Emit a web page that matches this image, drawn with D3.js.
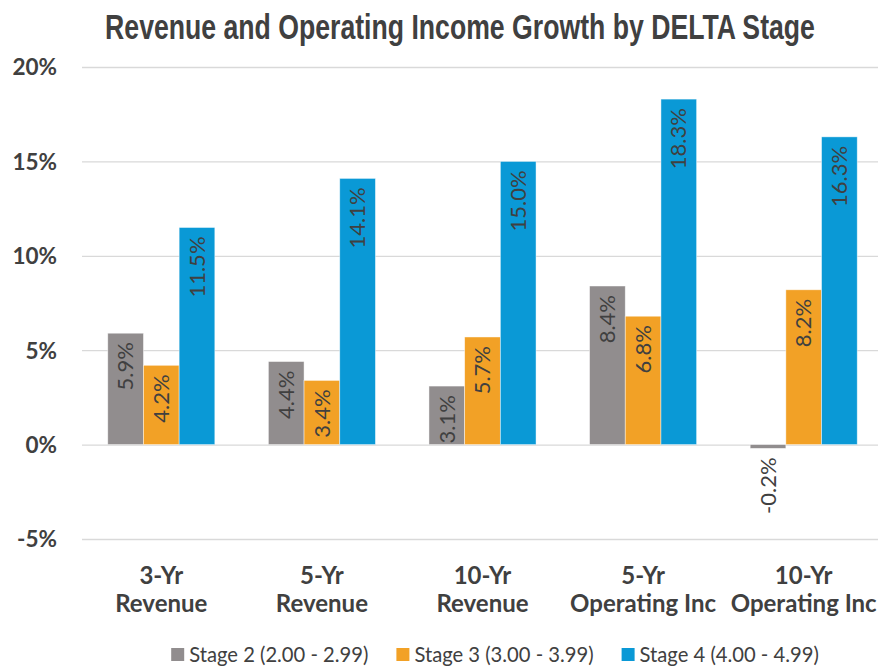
<!DOCTYPE html>
<html>
<head>
<meta charset="utf-8">
<script src="https://cdn.jsdelivr.net/npm/d3@7"></script>
<style>
  html, body { margin: 0; padding: 0; background: #fff; }
  svg { display: block; }
</style>
</head>
<body>
<svg id="chart" width="878" height="668"></svg>
<script>
const title = "Revenue and Operating Income Growth by DELTA Stage";
const categories = ["3-Yr\nRevenue", "5-Yr\nRevenue", "10-Yr\nRevenue", "5-Yr\nOperating Inc", "10-Yr\nOperating Inc"];
const seriesNames = ["Stage 2 (2.00 - 2.99)", "Stage 3 (3.00 - 3.99)", "Stage 4 (4.00 - 4.99)"];
const stage2 = [5.9, 4.4, 3.1, 8.4, -0.2];
const stage3 = [4.2, 3.4, 5.7, 6.8, 8.2];
const stage4 = [11.5, 14.1, 15.0, 18.3, 16.3];
const seriesColors = ["#918d8e", "#f2a126", "#0a99d6"];
const yTicks = [-5, 0, 5, 10, 15, 20];

const seriesValues = [stage2, stage3, stage4];
const svg = d3.select("#chart");
const textColor = "#404040";
const bodyFont = "'Source Sans Pro', Lato, 'Open Sans', sans-serif";

const y = d3.scaleLinear().domain([-5, 20]).range([539, 67]);
const x0 = d3.scaleBand().domain(categories).range([81, 884]).paddingInner(0).paddingOuter(0);
const x1 = d3.scaleBand().domain(seriesNames).range([0, x0.bandwidth()]).paddingInner(0).paddingOuter(0.75);
const color = d3.scaleOrdinal().domain(seriesNames).range(seriesColors);

// Title (condensed via horizontal scale)
const titleG = svg.append("g");
const titleText = titleG.append("text")
  .attr("x", 0).attr("y", 0)
  .attr("text-anchor", "middle")
  .attr("font-family", "'Liberation Sans', Arial, sans-serif")
  .attr("font-weight", "bold")
  .attr("font-size", 35)
  .attr("fill", textColor)
  .text(title);
const natW = titleText.node().getComputedTextLength();
titleG.attr("transform", `translate(460,38.5) scale(${710 / natW},1)`);

// Gridlines + y axis
const yAxis = d3.axisLeft(y).tickValues(yTicks).tickSize(-(878 - 82)).tickFormat(d => d + "%");
const gAxis = svg.append("g").attr("transform", "translate(82,0)").call(yAxis);
gAxis.select(".domain").remove();
gAxis.selectAll(".tick line").attr("stroke", "#d9d9d9").attr("stroke-width", 1.3);
gAxis.selectAll(".tick text")
  .attr("x", -25)
  .attr("dy", "0.35em")
  .attr("font-family", bodyFont)
  .attr("font-weight", "bold")
  .attr("font-size", 22.5)
  .attr("fill", textColor);

// Bars
const rows = categories.map((c, i) => ({ cat: c, vals: seriesNames.map((s, j) => ({ s, v: seriesValues[j][i] })) }));
const groups = svg.append("g").selectAll("g").data(rows).join("g")
  .attr("transform", d => `translate(${x0(d.cat)},0)`);

groups.selectAll("rect").data(d => d.vals).join("rect")
  .attr("x", d => x1(d.s))
  .attr("width", x1.bandwidth())
  .attr("y", d => Math.min(y(d.v), y(0)))
  .attr("height", d => Math.abs(y(d.v) - y(0)))
  .attr("fill", d => color(d.s))
  .attr("stroke", "rgba(255,255,255,0.6)")
  .attr("stroke-width", 0.75);

groups.selectAll("text.lbl").data(d => d.vals).join("text")
  .attr("class", "lbl")
  .attr("transform", d => `translate(${x1(d.s) + x1.bandwidth() / 2},${y(d.v) + 9}) rotate(-90)`)
  .attr("text-anchor", "end")
  .attr("dy", "0.35em")
  .attr("font-family", bodyFont)
  .attr("font-size", 22)
  .attr("fill", textColor)
  .text(d => d.v.toFixed(1) + "%");

// Category labels
const catG = svg.append("g").selectAll("text").data(categories).join("text")
  .attr("x", d => x0(d) + x0.bandwidth() / 2)
  .attr("y", 584)
  .attr("text-anchor", "middle")
  .attr("font-family", bodyFont)
  .attr("font-weight", "bold")
  .attr("font-size", 24)
  .attr("fill", textColor);
catG.selectAll("tspan").data(d => d.split("\n")).join("tspan")
  .attr("x", function () { return d3.select(this.parentNode).attr("x"); })
  .attr("dy", (d, i) => i === 0 ? 0 : 28)
  .text(d => d);

// Legend
const legend = svg.append("g");
const items = legend.selectAll("g").data(seriesNames).join("g");
items.append("rect").attr("width", 13).attr("height", 13).attr("y", -7).attr("fill", d => color(d));
items.append("text").attr("x", 18).attr("dy", "0.35em")
  .attr("font-family", bodyFont).attr("font-size", 20.2).attr("fill", textColor).text(d => d);
let cx = 0;
const gap = 28;
items.each(function () {
  const w = 18 + this.querySelector("text").getComputedTextLength();
  d3.select(this).attr("transform", `translate(${cx},0)`);
  cx += w + gap;
});
const totalW = cx - gap;
legend.attr("transform", `translate(${495 - totalW / 2},655)`);
</script>
</body>
</html>
